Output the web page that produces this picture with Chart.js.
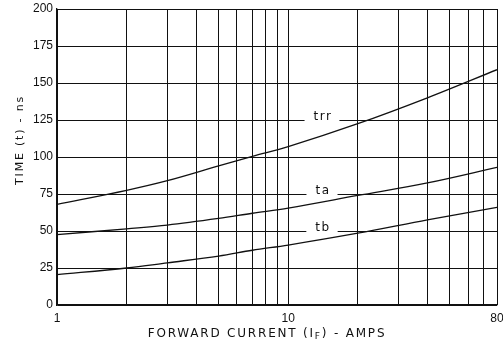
<!DOCTYPE html>
<html><head><meta charset="utf-8">
<script src="https://cdn.jsdelivr.net/npm/chart.js@4.4.1/dist/chart.umd.min.js"></script>
<style>html,body{margin:0;padding:0;background:#fff;}#wrap{width:503px;height:345px;}</style>
</head><body><div id="wrap"><canvas id="c" width="503" height="345"></canvas></div>
<script>
const current = [1, 2, 3, 5, 7, 10, 20, 40, 80];
const trr = [68, 77.5, 84, 94, 100.5, 107, 122.5, 140, 159];
const ta  = [47.5, 51.5, 54, 58.5, 62, 65.5, 74, 82.5, 93];
const tb  = [20.5, 25, 28.5, 33, 37, 40.5, 48.5, 57.5, 66];
const xGridTicks = [1,2,3,4,5,6,7,8,9,10,20,30,40,50,60,70,80];
const xTickLabels = [1, 10, 80];
const yTicks = [0,25,50,75,100,125,150,175,200];
const curveLabels = [
  {text: 'trr', x: 14, y: 125},
  {text: 'ta',  x: 14, y: 75},
  {text: 'tb',  x: 14, y: 50}
];
const ink = '#111';
function pts(ys){ return current.map((x,i)=>({x:x, y:ys[i]})); }
const ds = (lbl, ys) => ({label: lbl, data: pts(ys), borderColor: ink, borderWidth: 1.3, pointRadius: 0, tension: 0.35, fill: false});

const annot = {
  id: 'annot',
  afterDatasetsDraw(chart){
    const ctx = chart.ctx, xs = chart.scales.x, ys = chart.scales.y;
    ctx.save();
    ctx.font = '12px "DejaVu Sans"';
    ctx.letterSpacing = '1.5px';
    ctx.textAlign = 'center'; ctx.textBaseline = 'middle';
    curveLabels.forEach(l => {
      const px = xs.getPixelForValue(l.x), py = ys.getPixelForValue(l.y);
      const w = ctx.measureText(l.text).width;
      ctx.fillStyle = '#fff';
      ctx.fillRect(px - w/2 - 8, py - 4, w + 16, 8);
      ctx.fillStyle = ink;
      ctx.fillText(l.text, px + 1, py - 3);
    });
    ctx.restore();
  },
  afterDraw(chart){
    const ctx = chart.ctx, a = chart.chartArea;
    ctx.save();
    ctx.fillStyle = ink;
    ctx.font = '12px "DejaVu Sans"';
    ctx.letterSpacing = '1.8px';
    ctx.textBaseline = 'alphabetic';
    const p1 = 'FORWARD CURRENT (I', sub = 'F', p2 = ') - AMPS';
    const w1 = ctx.measureText(p1).width, w3 = ctx.measureText(p2).width;
    ctx.font = '9px "DejaVu Sans"';
    const w2 = ctx.measureText(sub).width;
    let x0 = (a.left + a.right)/2 - (w1 + w2 + w3)/2 - 10;
    const by = 337;
    ctx.font = '12px "DejaVu Sans"';
    ctx.textAlign = 'left';
    ctx.fillText(p1, x0, by);
    ctx.font = '9px "DejaVu Sans"';
    ctx.fillText(sub, x0 + w1, by + 2);
    ctx.font = '12px "DejaVu Sans"';
    ctx.fillText(p2, x0 + w1 + w2, by);
    ctx.translate(20, 140);
    ctx.rotate(-Math.PI/2);
    ctx.font = '11px "DejaVu Sans"';
    ctx.letterSpacing = '1.8px';
    ctx.textAlign = 'center'; ctx.textBaseline = 'middle';
    ctx.fillText('TIME (t) - ns', 0, 0);
    ctx.restore();
  }
};

new Chart(document.getElementById('c'), {
  type: 'line',
  data: { datasets: [ds('trr', trr), ds('ta', ta), ds('tb', tb)] },
  options: {
    responsive: false, animation: false, devicePixelRatio: 1,
    layout: { padding: { left: 0, right: 6, top: 9, bottom: 0 } },
    plugins: { legend: { display: false }, tooltip: { enabled: false } },
    scales: {
      x: {
        type: 'logarithmic', min: 1, max: 80,
        afterBuildTicks: s => { s.ticks = xGridTicks.map(v => ({value: v})); },
        afterFit: s => { s.height = 40; s.paddingLeft = 0; s.paddingRight = 0; },
        grid: { color: ink, lineWidth: 1, drawTicks: false },
        border: { color: ink, width: 1.3 },
        ticks: {
          autoSkip: false, maxRotation: 0, padding: 6, color: ink,
          font: { family: 'Liberation Sans', size: 12 },
          callback: v => xTickLabels.includes(v) ? String(v) : ''
        }
      },
      y: {
        min: 0, max: 200,
        afterBuildTicks: s => { s.ticks = yTicks.map(v => ({value: v})); },
        afterFit: s => { s.width = 57; s.paddingTop = 0; s.paddingBottom = 0; },
        grid: { color: ink, lineWidth: 1, drawTicks: false },
        border: { color: ink, width: 1.3 },
        ticks: { padding: 4, color: ink, font: { family: 'Liberation Sans', size: 12 } }
      }
    }
  },
  plugins: [annot]
});
</script></body></html>
